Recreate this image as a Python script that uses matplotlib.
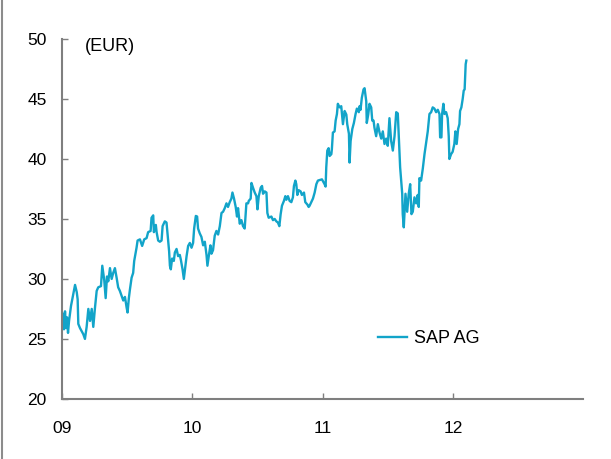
import matplotlib
matplotlib.use("Agg")
import matplotlib.pyplot as plt
from matplotlib.lines import Line2D

plt.rcParams['font.family'] = ['Liberation Sans', 'DejaVu Sans']

# SAP AG share price (EUR); time as fractional year
years = [
    2009.000, 2009.008, 2009.015, 2009.023, 2009.031, 2009.038, 2009.046, 2009.054,
    2009.069, 2009.087, 2009.100, 2009.113, 2009.120, 2009.125, 2009.138, 2009.163,
    2009.176, 2009.189, 2009.202, 2009.215, 2009.228, 2009.240, 2009.253, 2009.266,
    2009.278, 2009.299, 2009.309, 2009.324, 2009.335, 2009.345, 2009.355, 2009.368,
    2009.381, 2009.393, 2009.406, 2009.419, 2009.431, 2009.444, 2009.457, 2009.470,
    2009.483, 2009.496, 2009.503, 2009.513, 2009.521, 2009.534, 2009.546, 2009.554,
    2009.572, 2009.580, 2009.598, 2009.615, 2009.631, 2009.649, 2009.661, 2009.680,
    2009.687, 2009.700, 2009.705, 2009.720, 2009.726, 2009.738, 2009.751, 2009.764,
    2009.772, 2009.789, 2009.802, 2009.807, 2009.815, 2009.822, 2009.828, 2009.835,
    2009.845, 2009.858, 2009.866, 2009.879, 2009.891, 2009.904, 2009.912, 2009.925,
    2009.935, 2009.943, 2009.956, 2009.968, 2009.981, 2009.994, 2010.006, 2010.014,
    2010.027, 2010.037, 2010.044, 2010.057, 2010.070, 2010.083, 2010.096, 2010.109,
    2010.116, 2010.129, 2010.139, 2010.147, 2010.159, 2010.172, 2010.185, 2010.198,
    2010.211, 2010.224, 2010.236, 2010.249, 2010.262, 2010.274, 2010.287, 2010.300,
    2010.308, 2010.320, 2010.333, 2010.343, 2010.351, 2010.364, 2010.377, 2010.389,
    2010.402, 2010.415, 2010.428, 2010.433, 2010.448, 2010.454, 2010.466, 2010.479,
    2010.492, 2010.500, 2010.510, 2010.525, 2010.535, 2010.543, 2010.556, 2010.569,
    2010.576, 2010.586, 2010.607, 2010.619, 2010.632, 2010.645, 2010.657, 2010.668,
    2010.678, 2010.688, 2010.703, 2010.714, 2010.722, 2010.734, 2010.747, 2010.760,
    2010.772, 2010.780, 2010.791, 2010.798, 2010.806, 2010.816, 2010.831, 2010.841,
    2010.857, 2010.867, 2010.883, 2010.893, 2010.900, 2010.913, 2010.926, 2010.939,
    2010.952, 2010.964, 2010.995, 2011.015, 2011.023, 2011.028, 2011.036, 2011.046,
    2011.054, 2011.067, 2011.071, 2011.079, 2011.092, 2011.100, 2011.110, 2011.117,
    2011.130, 2011.143, 2011.156, 2011.169, 2011.182, 2011.189, 2011.202, 2011.207,
    2011.215, 2011.228, 2011.240, 2011.253, 2011.263, 2011.278, 2011.284, 2011.291,
    2011.301, 2011.314, 2011.322, 2011.335, 2011.339, 2011.350, 2011.360, 2011.373,
    2011.381, 2011.391, 2011.398, 2011.411, 2011.424, 2011.437, 2011.450, 2011.462,
    2011.475, 2011.488, 2011.500, 2011.513, 2011.526, 2011.539, 2011.552, 2011.565,
    2011.577, 2011.585, 2011.595, 2011.603, 2011.611, 2011.615, 2011.623, 2011.636,
    2011.649, 2011.661, 2011.672, 2011.682, 2011.692, 2011.705, 2011.718, 2011.730,
    2011.738, 2011.743, 2011.756, 2011.769, 2011.782, 2011.795, 2011.807, 2011.820,
    2011.833, 2011.845, 2011.858, 2011.871, 2011.884, 2011.897, 2011.902, 2011.912,
    2011.917, 2011.927, 2011.935, 2011.948, 2011.960, 2011.968, 2011.973, 2011.986,
    2011.998, 2012.011, 2012.019, 2012.029, 2012.040, 2012.050, 2012.055, 2012.065,
    2012.075, 2012.083, 2012.090, 2012.098, 2012.103,
]
sap_price = [
    26.5, 27.1, 25.8, 27.3, 25.9, 26.8, 25.5, 26.5,
    27.75, 28.75, 29.5, 28.9, 28.3, 26.25, 25.9, 25.4,
    25.0, 26.0, 27.5, 26.5, 27.5, 26.0, 27.6, 29.0,
    29.3, 29.4, 31.1, 29.9, 28.4, 30.2, 29.8, 30.9,
    30.0, 30.5, 30.9, 30.1, 29.3, 29.0, 28.6, 28.2,
    28.5, 27.6, 27.2, 28.4, 29.1, 30.1, 30.5, 31.5,
    32.6, 33.2, 33.3, 32.75, 33.3, 33.4, 33.9, 34.0,
    35.1, 35.3, 33.9, 34.5, 33.9, 33.2, 33.1, 33.2,
    34.4, 34.8, 34.7, 34.1, 33.2, 32.3, 31.1, 30.8,
    31.7, 31.5, 32.2, 32.5, 31.9, 32.0, 31.6, 30.8,
    30.0, 30.7, 31.9, 32.75, 33.0, 32.6, 33.0, 34.2,
    35.25, 35.2, 34.2, 33.8, 33.5, 32.8, 33.1, 32.0,
    31.1, 32.1, 32.8, 32.1, 32.4, 33.6, 34.0, 33.7,
    34.4, 35.5, 35.6, 35.9, 36.3, 36.0, 36.4, 36.7,
    37.2, 36.7, 36.0, 35.2, 35.9, 34.6, 34.9, 34.4,
    34.2, 36.3, 36.3, 36.5, 36.7, 38.0, 37.6, 37.2,
    36.9, 35.8, 36.9, 37.6, 37.75, 37.1, 37.3, 37.2,
    35.5, 35.1, 35.2, 34.9, 35.0, 34.8, 34.7, 34.4,
    35.4, 36.1, 36.5, 36.9, 36.6, 36.9, 36.5, 36.4,
    36.8, 37.75, 38.2, 37.9, 37.0, 37.4, 37.3, 37.0,
    37.2, 36.4, 36.2, 36.0, 36.1, 36.4, 36.7, 37.2,
    37.9, 38.2, 38.3, 37.9, 37.7, 39.3, 40.7, 40.9,
    40.25, 40.4, 40.8, 42.2, 42.3, 43.2, 43.75, 44.6,
    44.3, 44.4, 42.9, 44.0, 43.7, 42.9, 42.1, 39.7,
    41.5, 42.5, 43.0, 43.75, 44.2, 43.9, 44.4, 44.1,
    45.1, 45.8, 45.9, 44.8, 43.0, 43.7, 44.6, 44.3,
    43.2, 43.2, 42.6, 41.9, 42.9, 42.2, 41.7, 42.3,
    41.25, 41.7, 41.1, 43.4, 41.5, 40.7, 41.9, 43.9,
    43.8, 41.8, 39.3, 38.2, 37.1, 35.4, 34.3, 37.1,
    35.6, 37.1, 37.9, 35.4, 35.6, 36.8, 36.3, 37.0,
    36.0, 38.4, 38.2, 39.2, 40.4, 41.4, 42.3, 43.75,
    43.9, 44.3, 44.2, 43.9, 44.1, 43.75, 41.8, 41.8,
    43.75, 44.6, 43.75, 43.9, 43.4, 41.9, 40.0, 40.4,
    40.6, 41.25, 42.3, 41.25, 42.5, 42.9, 44.0, 44.3,
    45.0, 45.7, 45.8, 47.9, 48.2,
]

year_ticks = [2009, 2010, 2011, 2012]
year_labels = ['09', '10', '11', '12']
price_ticks = [20, 25, 30, 35, 40, 45, 50]

line_color = '#12a4c9'
axis_color = '#7f7f7f'

fig = plt.figure(figsize=(6.11, 4.59), dpi=100)
ax = fig.add_axes([0.1015, 0.131, 0.853, 0.784])

ax.plot(years, sap_price, color=line_color, lw=1.7, label='SAP AG')

ax.set_xlim(2009, 2013)
ax.set_ylim(20, 50)
ax.set_xticks(year_ticks)
ax.set_xticklabels(year_labels)
ax.set_yticks(price_ticks)

for side in ['top', 'right']:
    ax.spines[side].set_visible(False)
for side in ['left', 'bottom']:
    ax.spines[side].set_color(axis_color)
    ax.spines[side].set_linewidth(1.5)

ax.tick_params(axis='both', direction='in', length=4, width=1, color=axis_color,
               labelsize=12.5, labelcolor='black')
ax.tick_params(axis='y', pad=11)
ax.tick_params(axis='x', pad=16)

ax.text(0.044, 0.98, '(EUR)', transform=ax.transAxes, fontsize=13, va='center', ha='left')

ax.legend(loc='center left', bbox_to_anchor=(0.607, 0.167), frameon=False,
          fontsize=13, handlelength=1.6, handletextpad=0.4,
          borderpad=0, borderaxespad=0)

# thin grey border on the left edge of the picture
fig.add_artist(Line2D([0.004, 0.004], [0, 1], transform=fig.transFigure,
                      color='#8c8c8c', lw=1.5))

fig.savefig('out.png', dpi=100)
